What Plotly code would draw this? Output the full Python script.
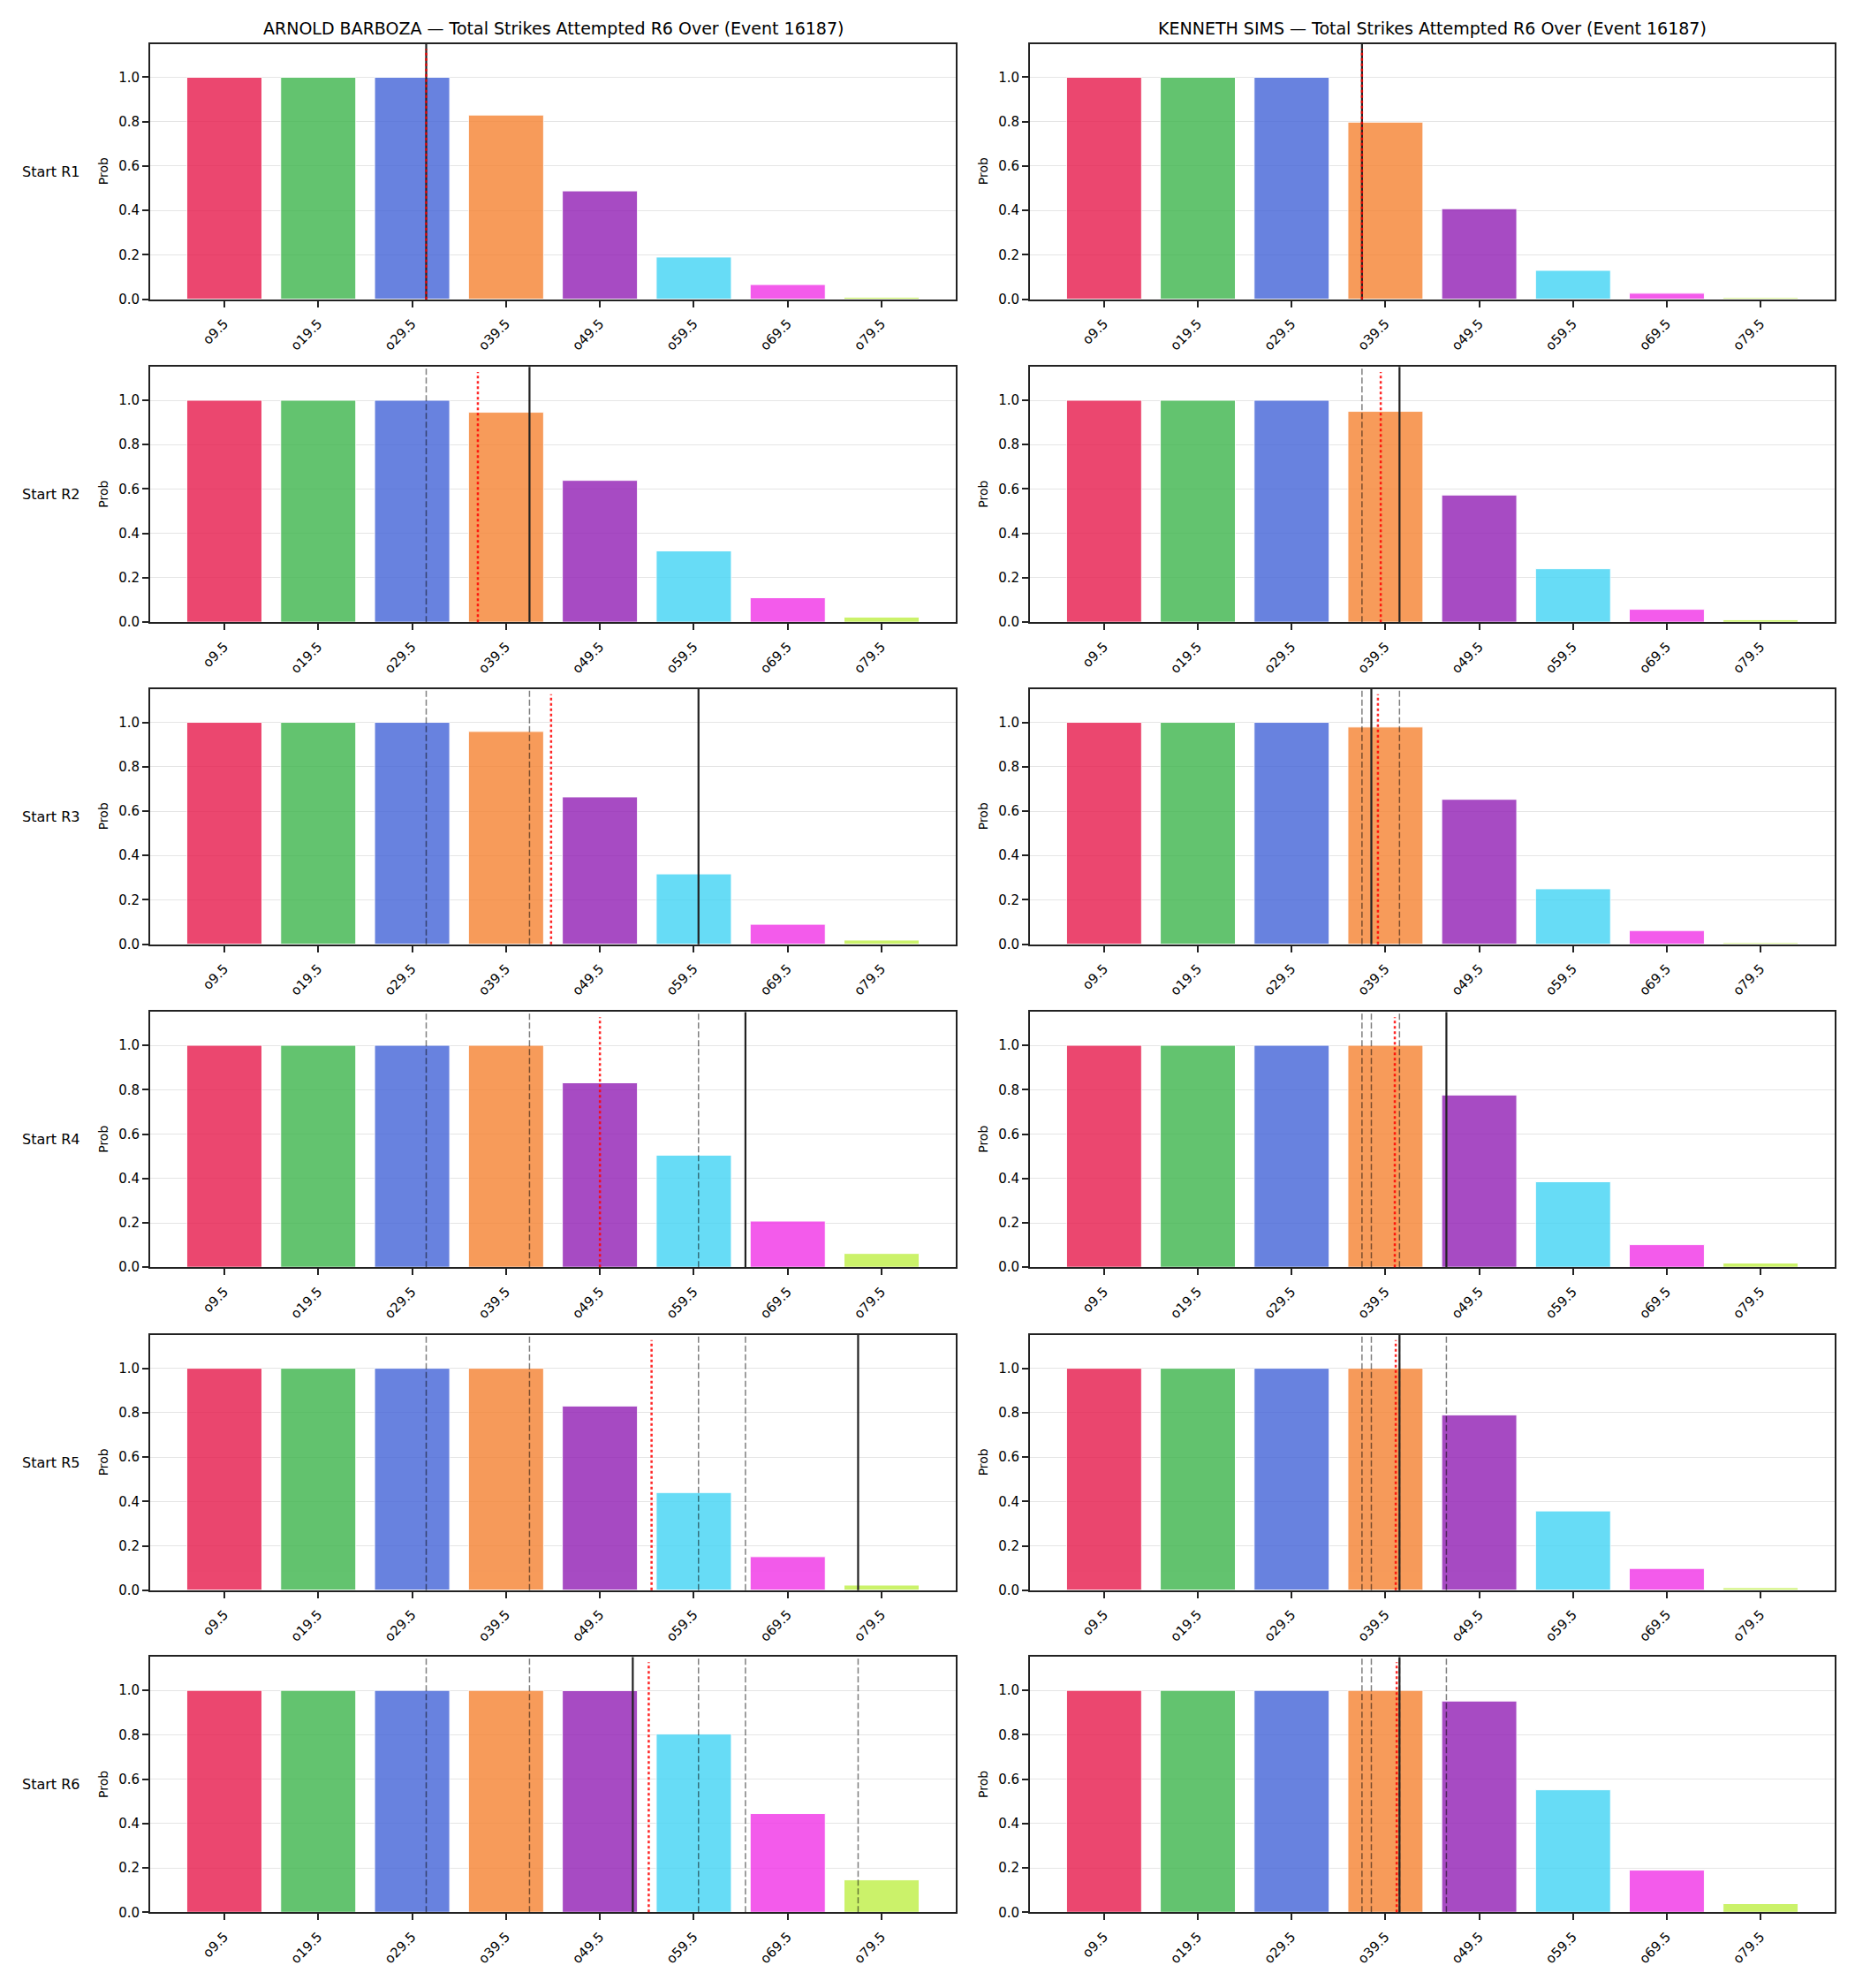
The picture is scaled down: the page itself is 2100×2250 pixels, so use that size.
import plotly.graph_objects as go

# ---------------- data ----------------
categories = ["o9.5", "o19.5", "o29.5", "o39.5", "o49.5", "o59.5", "o69.5", "o79.5"]
thresholds = [9.5, 19.5, 29.5, 39.5, 49.5, 59.5, 69.5, 79.5]
bar_colors = ["#e6194b", "#3cb44b", "#4363d8", "#f58231", "#911eb4", "#42d4f4", "#f032e6", "#bfef45"]
round_labels = ["Start R1", "Start R2", "Start R3", "Start R4", "Start R5", "Start R6"]
fighters = ["ARNOLD BARBOZA", "KENNETH SIMS"]
title_suffix = " — Total Strikes Attempted R6 Over (Event 16187)"

barboza_r1 = [1.0, 1.0, 1.0, 0.830, 0.488, 0.190, 0.066, 0.009]
barboza_r2 = [1.0, 1.0, 1.0, 0.946, 0.639, 0.321, 0.110, 0.023]
barboza_r3 = [1.0, 1.0, 1.0, 0.959, 0.664, 0.317, 0.090, 0.019]
barboza_r4 = [1.0, 1.0, 1.0, 1.0, 0.831, 0.505, 0.208, 0.062]
barboza_r5 = [1.0, 1.0, 1.0, 1.0, 0.830, 0.440, 0.151, 0.023]
barboza_r6 = [1.0, 1.0, 1.0, 1.0, 0.999, 0.803, 0.445, 0.146]

sims_r1 = [1.0, 1.0, 1.0, 0.798, 0.408, 0.130, 0.027, 0.007]
sims_r2 = [1.0, 1.0, 1.0, 0.950, 0.573, 0.241, 0.058, 0.011]
sims_r3 = [1.0, 1.0, 1.0, 0.979, 0.653, 0.250, 0.062, 0.007]
sims_r4 = [1.0, 1.0, 1.0, 1.0, 0.776, 0.385, 0.102, 0.019]
sims_r5 = [1.0, 1.0, 1.0, 1.0, 0.790, 0.357, 0.098, 0.011]
sims_r6 = [1.0, 1.0, 1.0, 1.0, 0.952, 0.552, 0.190, 0.039]

# per-round markers (strike counts)
barboza_actual = [31, 42, 60, 65, 77, 53]      # solid black; earlier rounds dashed
barboza_avg = [31, 36.5, 44.3, 49.5, 55.0, 54.7]  # red dotted
sims_actual = [37, 41, 38, 46, 41, 41]
sims_avg = [37, 39.0, 38.7, 40.5, 40.6, 40.7]

barboza_probs = [barboza_r1, barboza_r2, barboza_r3, barboza_r4, barboza_r5, barboza_r6]
sims_probs = [sims_r1, sims_r2, sims_r3, sims_r4, sims_r5, sims_r6]
all_probs = [barboza_probs, sims_probs]
all_actual = [barboza_actual, sims_actual]
all_avg = [barboza_avg, sims_avg]

# ---------------- layout geometry ----------------
W, H = 2100, 2250
col_x = [(170, 1082), (1166, 2077)]
row_top = [50, 417, 783, 1150, 1517, 1883]
row_h = 290
FONT = "DejaVu Sans"
INK = "#222222"

fig = go.Figure()
layout = dict(
    width=W, height=H, margin=dict(l=0, r=0, t=0, b=0),
    paper_bgcolor="white", plot_bgcolor="white", showlegend=False,
    font=dict(family=FONT, color="black"),
)
shapes = []
annotations = []

for r in range(6):
    y0 = 1 - (row_top[r] + row_h) / H
    y1 = 1 - row_top[r] / H
    for c in range(2):
        k = r * 2 + c + 1
        xs = "" if k == 1 else str(k)
        fig.add_trace(go.Bar(
            x=thresholds, y=all_probs[c][r], width=8,
            marker=dict(color=bar_colors, line=dict(color="white", width=1)),
            opacity=0.8, xaxis="x" + xs, yaxis="y" + xs, hoverinfo="skip",
        ))
        layout["xaxis" + xs] = dict(
            domain=[col_x[c][0] / W, col_x[c][1] / W], anchor="y" + xs,
            range=[1.6, 87.4], tickmode="array", tickvals=thresholds, ticktext=categories,
            tickangle=-45, ticks="outside", ticklen=7, tickwidth=1.5, tickcolor=INK,
            ticklabelstandoff=4,
            showline=True, linecolor=INK, linewidth=2, mirror=True,
            showgrid=False, zeroline=False,
            tickfont=dict(family=FONT, size=15, color="black"),
        )
        layout["yaxis" + xs] = dict(
            domain=[y0, y1], anchor="x" + xs, range=[0, 1.15],
            tickmode="array", tickvals=[0, 0.2, 0.4, 0.6, 0.8, 1.0],
            ticktext=["0.0", "0.2", "0.4", "0.6", "0.8", "1.0"],
            ticks="outside", ticklen=7, tickwidth=1.5, tickcolor=INK,
            showline=True, linecolor=INK, linewidth=2, mirror=True,
            showgrid=True, gridcolor="#e5e5e5", gridwidth=1, zeroline=False,
            tickfont=dict(family=FONT, size=15, color="black"),
        )
        xref = "x" + xs
        yref = ("y" + xs) + " domain"
        # earlier rounds (dashed)
        for p in range(r):
            shapes.append(dict(type="line", xref=xref, yref=yref,
                               x0=all_actual[c][p], x1=all_actual[c][p], y0=0, y1=1,
                               line=dict(color="rgba(0,0,0,0.5)", width=1.5, dash="7px,3px")))
        # current round (solid black)
        shapes.append(dict(type="line", xref=xref, yref=yref,
                           x0=all_actual[c][r], x1=all_actual[c][r], y0=0, y1=1,
                           line=dict(color=INK, width=2.2)))
        # running average (red dotted)
        shapes.append(dict(type="line", xref=xref, yref=yref,
                           x0=all_avg[c][r], x1=all_avg[c][r], y0=0, y1=0.98,
                           line=dict(color="rgba(255,0,0,0.85)", width=2.5, dash="3px,3px")))
        # y axis title
        annotations.append(dict(
            text="Prob", xref="paper", yref="paper",
            x=(col_x[c][0] - 53) / W, y=(y0 + y1) / 2, xanchor="center", yanchor="middle",
            textangle=-90, showarrow=False, font=dict(family=FONT, size=14, color="black"),
        ))
    # row label
    annotations.append(dict(
        text=round_labels[r], xref="paper", yref="paper",
        x=92 / W, y=(y0 + y1) / 2, xanchor="right", yanchor="middle",
        showarrow=False, font=dict(family=FONT, size=16, color="black"),
    ))

for c in range(2):
    annotations.append(dict(
        text=fighters[c] + title_suffix, xref="paper", yref="paper",
        x=(col_x[c][0] + col_x[c][1]) / 2 / W, y=1 - 32 / H,
        xanchor="center", yanchor="middle", showarrow=False,
        font=dict(family=FONT, size=19, color="black"),
    ))

layout["shapes"] = shapes
layout["annotations"] = annotations
fig.update_layout(**layout)
fig.write_html("out.html")
